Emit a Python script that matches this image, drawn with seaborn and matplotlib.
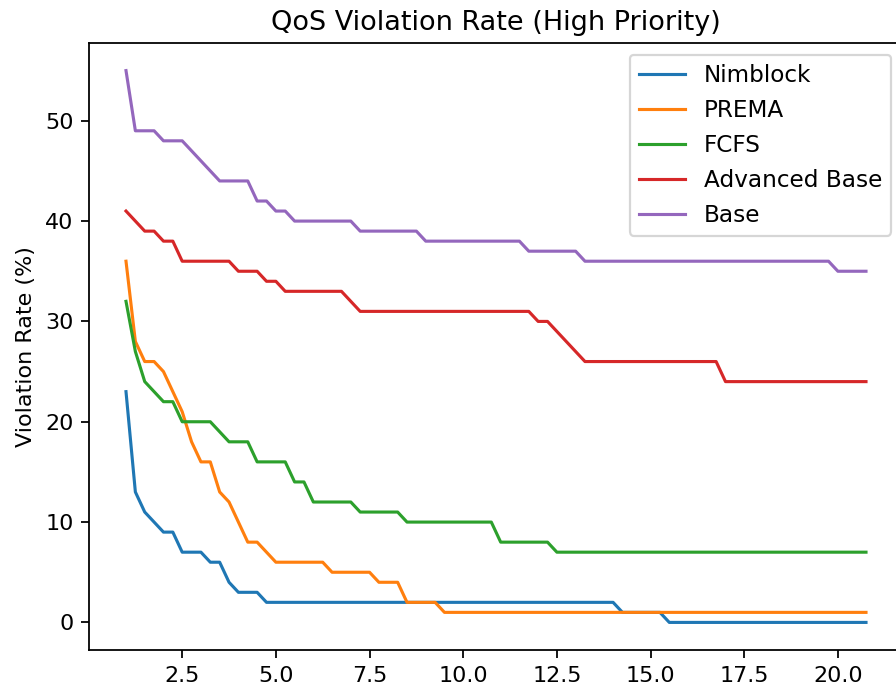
import numpy as np
import matplotlib
matplotlib.use("Agg")
import matplotlib.pyplot as plt
import seaborn as sns

# x grid (80 points, step 0.25)
x_values = np.arange(1.0, 20.8, 0.25)

series_names = ["Nimblock", "PREMA", "FCFS", "Advanced Base", "Base"]

nimblock = [23, 13, 11, 10, 9, 9, 7, 7, 7, 6,
            6, 4, 3, 3, 3, 2, 2, 2, 2, 2,
            2, 2, 2, 2, 2, 2, 2, 2, 2, 2,
            2, 2, 2, 2, 2, 2, 2, 2, 2, 2,
            2, 2, 2, 2, 2, 2, 2, 2, 2, 2,
            2, 2, 2, 1, 1, 1, 1, 1, 0, 0,
            0, 0, 0, 0, 0, 0, 0, 0, 0, 0,
            0, 0, 0, 0, 0, 0, 0, 0, 0, 0]

prema = [36, 28, 26, 26, 25, 23, 21, 18, 16, 16,
         13, 12, 10, 8, 8, 7, 6, 6, 6, 6,
         6, 6, 5, 5, 5, 5, 5, 4, 4, 4,
         2, 2, 2, 2, 1, 1, 1, 1, 1, 1,
         1, 1, 1, 1, 1, 1, 1, 1, 1, 1,
         1, 1, 1, 1, 1, 1, 1, 1, 1, 1,
         1, 1, 1, 1, 1, 1, 1, 1, 1, 1,
         1, 1, 1, 1, 1, 1, 1, 1, 1, 1]

fcfs = [32, 27, 24, 23, 22, 22, 20, 20, 20, 20,
        19, 18, 18, 18, 16, 16, 16, 16, 14, 14,
        12, 12, 12, 12, 12, 11, 11, 11, 11, 11,
        10, 10, 10, 10, 10, 10, 10, 10, 10, 10,
        8, 8, 8, 8, 8, 8, 7, 7, 7, 7,
        7, 7, 7, 7, 7, 7, 7, 7, 7, 7,
        7, 7, 7, 7, 7, 7, 7, 7, 7, 7,
        7, 7, 7, 7, 7, 7, 7, 7, 7, 7]

advanced_base = [41, 40, 39, 39, 38, 38, 36, 36, 36, 36,
                 36, 36, 35, 35, 35, 34, 34, 33, 33, 33,
                 33, 33, 33, 33, 32, 31, 31, 31, 31, 31,
                 31, 31, 31, 31, 31, 31, 31, 31, 31, 31,
                 31, 31, 31, 31, 30, 30, 29, 28, 27, 26,
                 26, 26, 26, 26, 26, 26, 26, 26, 26, 26,
                 26, 26, 26, 26, 24, 24, 24, 24, 24, 24,
                 24, 24, 24, 24, 24, 24, 24, 24, 24, 24]

base = [55, 49, 49, 49, 48, 48, 48, 47, 46, 45,
        44, 44, 44, 44, 42, 42, 41, 41, 40, 40,
        40, 40, 40, 40, 40, 39, 39, 39, 39, 39,
        39, 39, 38, 38, 38, 38, 38, 38, 38, 38,
        38, 38, 38, 37, 37, 37, 37, 37, 37, 36,
        36, 36, 36, 36, 36, 36, 36, 36, 36, 36,
        36, 36, 36, 36, 36, 36, 36, 36, 36, 36,
        36, 36, 36, 36, 36, 36, 35, 35, 35, 35]

series_values = [nimblock, prema, fcfs, advanced_base, base]
colors = sns.color_palette("tab10", 5)

DPI = 160
fig = plt.figure(figsize=(896 / DPI, 688 / DPI), dpi=DPI)
left, right, top, bottom = 89, 903, 43, 650
ax = fig.add_axes([left / 896, 1 - bottom / 688, (right - left) / 896, (bottom - top) / 688])

for name, vals, col in zip(series_names, series_values, colors):
    sns.lineplot(x=x_values, y=vals, label=name, color=col, linewidth=1.4, ax=ax)

ax.set_title("QoS Violation Rate (High Priority)", fontsize=12.2)
ax.set_ylabel("Violation Rate (%)")
ax.set_xlabel("")
ax.set_yticks([0, 10, 20, 30, 40, 50])
ax.set_xticks([2.5, 5.0, 7.5, 10.0, 12.5, 15.0, 17.5, 20.0])
ax.legend(loc="upper right", fontsize=10.4, labelspacing=0.52)

fig.savefig("out.png", dpi=DPI)
